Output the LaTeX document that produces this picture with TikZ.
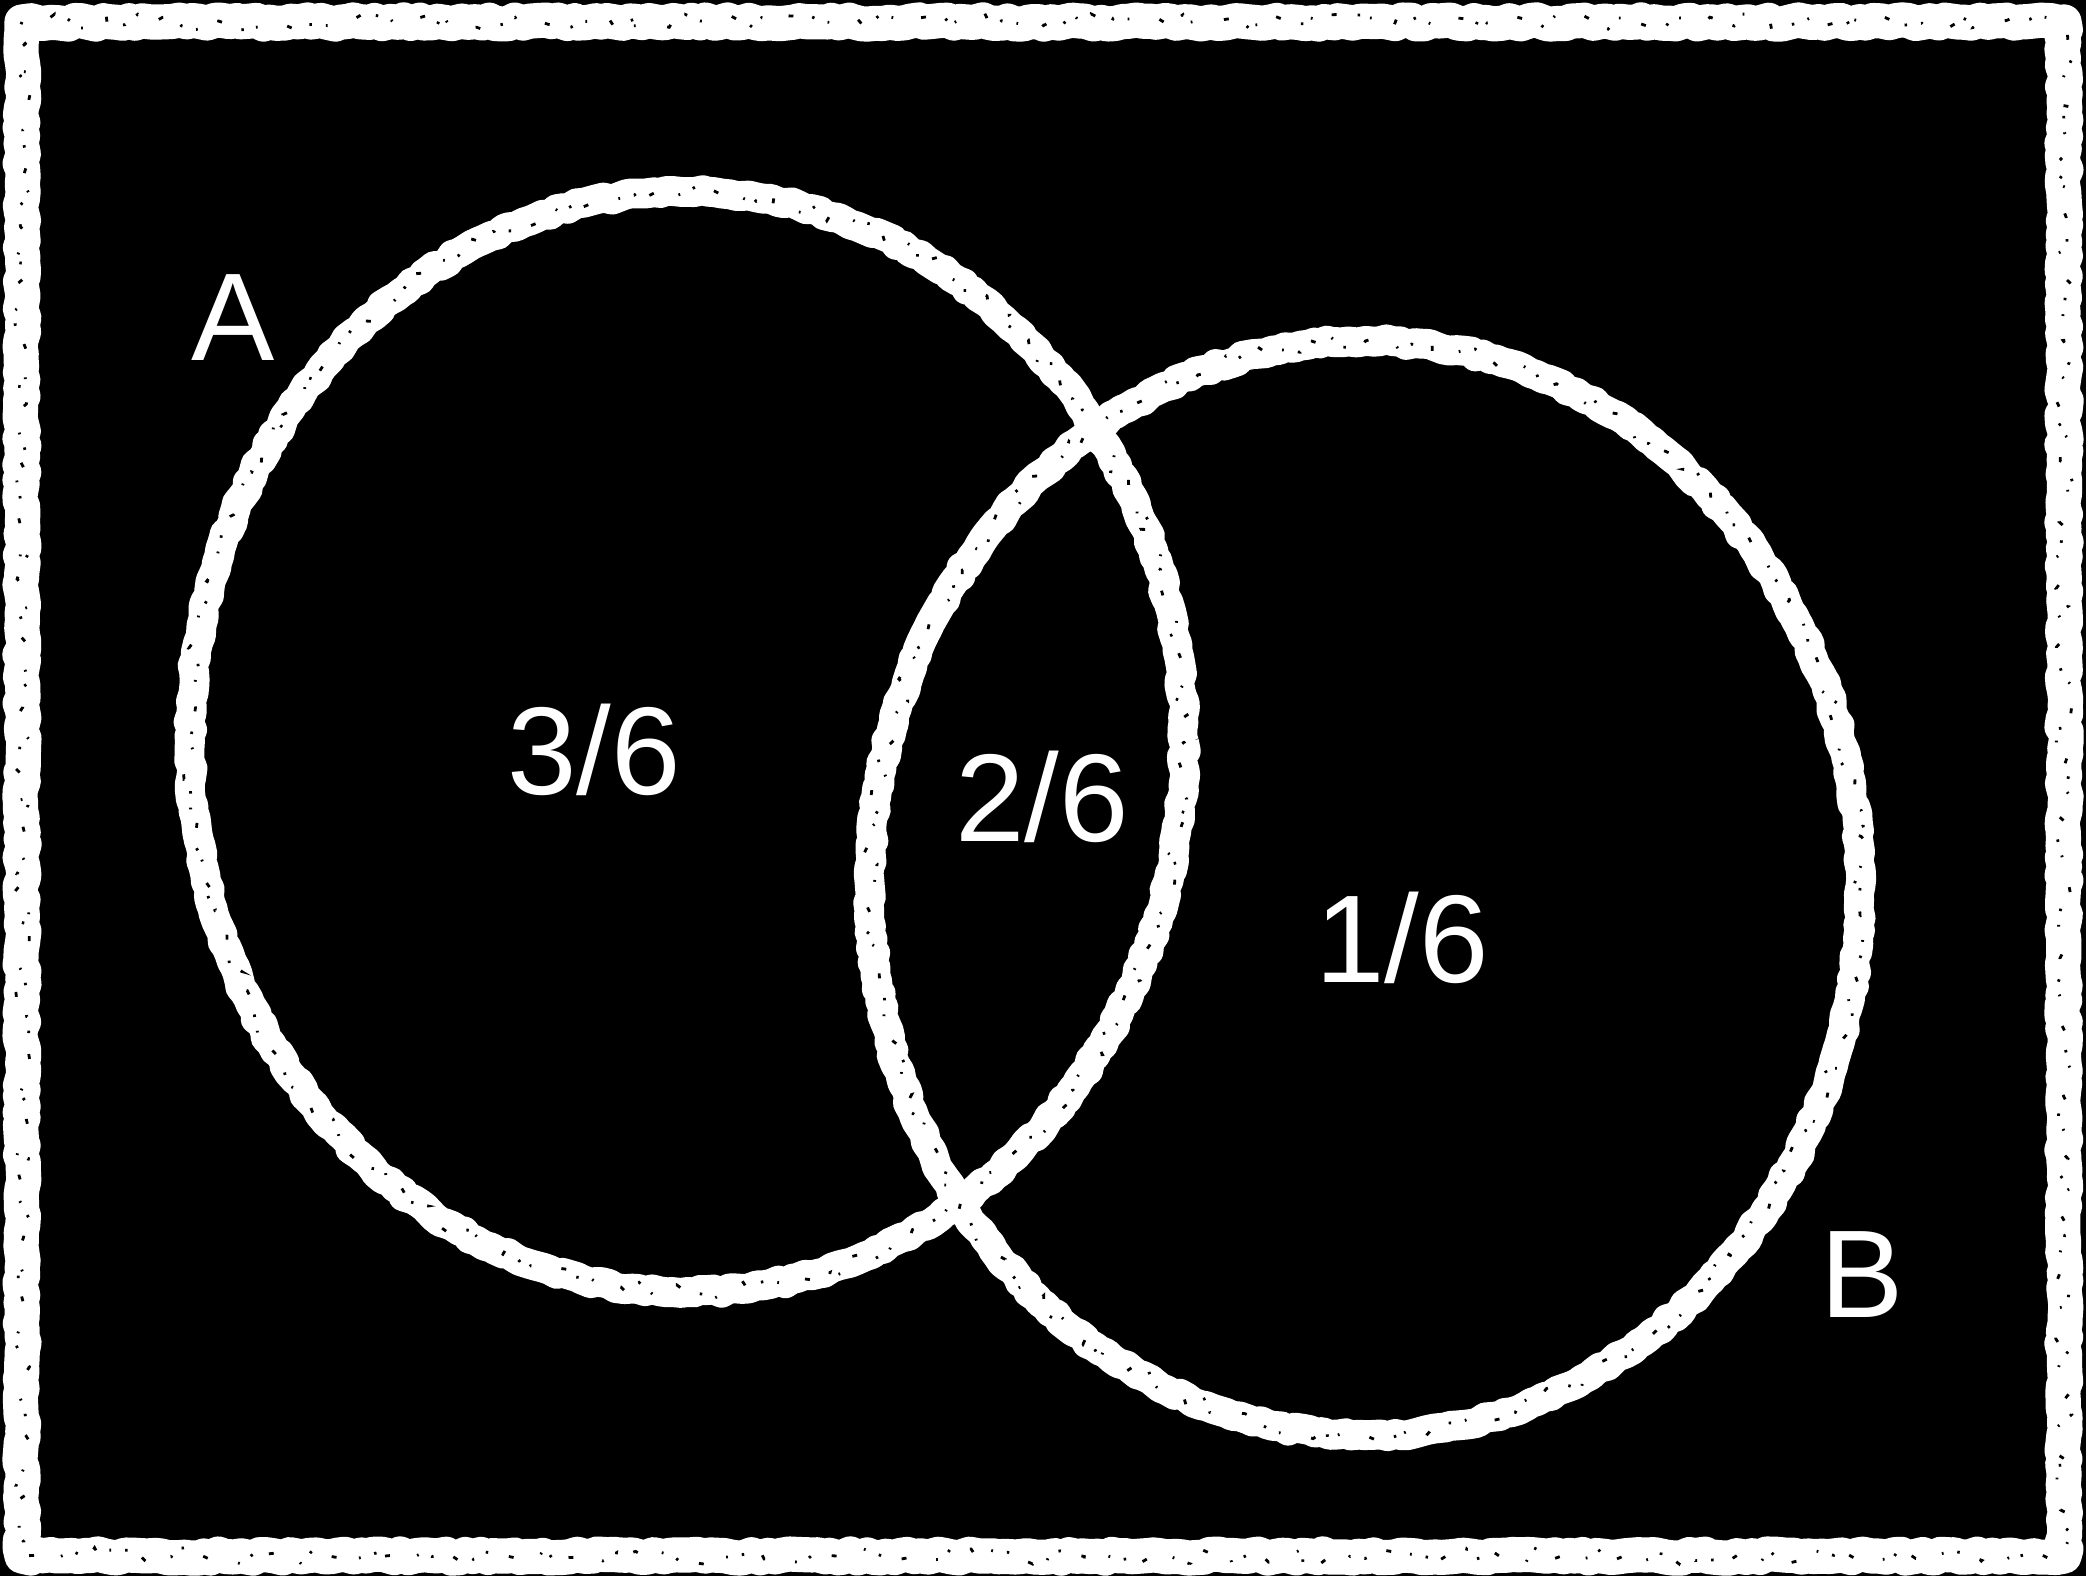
\documentclass[tikz,border=0pt]{standalone}
\usepackage{fontspec}
\setmainfont{Liberation Sans}
\usetikzlibrary{decorations.pathmorphing}

\begin{document}
\begin{tikzpicture}[x=0.01cm, y=-0.01cm,
        chalk/.style={draw=white, line width=#1, line join=round,
            decorate, decoration={random steps, segment length=2pt, amplitude=0.6pt}},
        chalk/.default=8.5pt,
        speck/.style={draw=black, line width=0.8pt,
            dash pattern=on 0.7pt off 6pt on 1.4pt off 9pt on 0.5pt off 4pt,
            decorate, decoration={random steps, segment length=3pt, amplitude=2.4pt}},
        lbl/.style={text=white, anchor=base, font=\fontsize{35.5}{40}\selectfont}]
        \pgfmathsetseed{11}
        \fill[black] (0,0) rectangle (2086,1576);
        \coordinate (NW) at (22,22); \coordinate (SE) at (2064,1556);
        \coordinate (A) at (687,742); \coordinate (B) at (1365,888);
        % board frame and the two sets
        \draw[chalk=10pt] (NW) rectangle (SE);
        \draw[speck] (NW) rectangle (SE);
        \draw[chalk] (A) ellipse [x radius=497, y radius=550];
        \draw[speck] (A) ellipse [x radius=497, y radius=550];
        \draw[chalk] (B) ellipse [x radius=495, y radius=547];
        \draw[speck] (B) ellipse [x radius=495, y radius=547];
        \foreach \n/\t/\pos in {nameA/A/{(233,360)}, nameB/B/{(1862,1317)},
                onlyA/{3/6}/{(594,794)}, both/{2/6}/{(1042,841)}, onlyB/{1/6}/{(1402,982)}}
            \node[lbl] (\n) at \pos {\t};
    \end{tikzpicture}
\end{document}
